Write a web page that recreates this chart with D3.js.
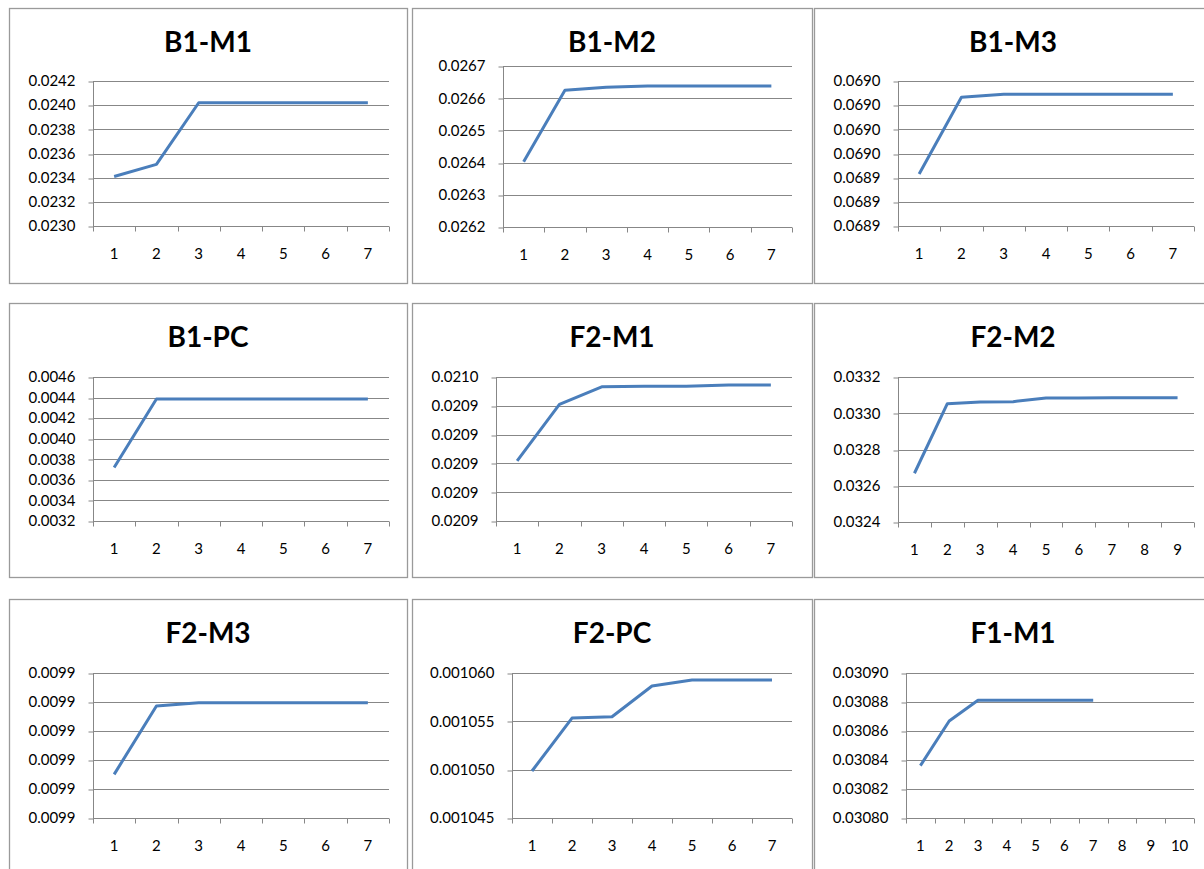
<!DOCTYPE html>
<html>
<head>
<meta charset="utf-8">
<script src="https://cdn.jsdelivr.net/npm/d3@7"></script>
<style>
  html, body { margin: 0; padding: 0; background: #fff; }
  svg { display: block; }
  text { font-family: Lato, "Open Sans", sans-serif; fill: #000; }
</style>
</head>
<body>
<div id="chart"></div>
<script>
// chart titles, in reading order
const titles = ['B1-M1', 'B1-M2', 'B1-M3', 'B1-PC', 'F2-M1', 'F2-M2', 'F2-M3', 'F2-PC', 'F1-M1'];

// series values
const b1m1 = [0.02341, 0.02351, 0.02402, 0.02402, 0.02402, 0.02402, 0.02402];
const b1m2 = [0.026403, 0.026625, 0.026634, 0.026638, 0.026638, 0.026638, 0.026638];
const b1m3 = [0.0689415, 0.0689733, 0.0689745, 0.0689745, 0.0689745, 0.0689745, 0.0689745];
const b1pc = [0.00372, 0.004386, 0.004386, 0.004386, 0.004386, 0.004386, 0.004386];
const f2m1 = [0.0209209, 0.0209405, 0.0209466, 0.0209468, 0.0209468, 0.0209472, 0.0209472];
const f2m2 = [0.032669, 0.033053, 0.033062, 0.033064, 0.033084, 0.033084, 0.033085, 0.033085, 0.033085];
const f2m3 = [0.00989301, 0.00989772, 0.00989795, 0.00989795, 0.00989795, 0.00989795, 0.00989795];
const f2pc = [0.00104986, 0.00105534, 0.00105548, 0.00105866, 0.00105928, 0.00105928, 0.00105928];
const f1m1 = [0.0308361, 0.0308669, 0.0308812, 0.0308812, 0.0308812, 0.0308812, 0.0308812];
const series = [b1m1, b1m2, b1m3, b1pc, f2m1, f2m2, f2m3, f2pc, f1m1];

// number of categories on each x axis
const categoryCounts = [7, 7, 7, 7, 7, 9, 7, 7, 10];

// value axis ranges
const yDomains = [
  [0.0230, 0.0242], [0.0262, 0.0267], [0.06892, 0.06898],
  [0.0032, 0.0046], [0.02090, 0.02095], [0.0324, 0.0332],
  [0.009890, 0.009900], [0.001045, 0.001060], [0.03080, 0.03090]
];

// tick labels, bottom to top (as Excel shows them, rounded)
const yTickLabels = [
  ['0.0230', '0.0232', '0.0234', '0.0236', '0.0238', '0.0240', '0.0242'],
  ['0.0262', '0.0263', '0.0264', '0.0265', '0.0266', '0.0267'],
  ['0.0689', '0.0689', '0.0689', '0.0690', '0.0690', '0.0690', '0.0690'],
  ['0.0032', '0.0034', '0.0036', '0.0038', '0.0040', '0.0042', '0.0044', '0.0046'],
  ['0.0209', '0.0209', '0.0209', '0.0209', '0.0209', '0.0210'],
  ['0.0324', '0.0326', '0.0328', '0.0330', '0.0332'],
  ['0.0099', '0.0099', '0.0099', '0.0099', '0.0099', '0.0099'],
  ['0.001045', '0.001050', '0.001055', '0.001060'],
  ['0.03080', '0.03082', '0.03084', '0.03086', '0.03088', '0.03090']
];

// layout: chart frames and plot areas (page pixels)
const WIDTH = 1204;
const HEIGHT = 869;
const frames = [
  [9, 8, 398, 275], [412, 8, 400, 275], [814, 8, 398, 275],
  [9, 303, 398, 274], [412, 303, 400, 274], [814, 303, 398, 274],
  [9, 599, 398, 275], [412, 599, 400, 275], [814, 599, 398, 275]
];
// left, top, right, bottom of each plot area
const plots = [
  [93, 81, 389, 226], [503, 66, 792, 227], [898, 81, 1194, 226],
  [93, 377, 389, 521], [496, 377, 792, 521], [898, 377, 1194, 522],
  [93, 673, 389, 818], [512, 673, 792, 818], [906, 673, 1194, 818]
];

const LINE_COLOR = '#4a7ebb';
const GRID_COLOR = '#878787';
const FRAME_COLOR = '#9a9a9a';
const TICK_FONT = 15;

const svg = d3.select('#chart')
  .append('svg')
  .attr('width', WIDTH)
  .attr('height', HEIGHT);

function drawPanel(i) {
  const [fx, fy, fw, fh] = frames[i];
  const [left, top, right, bottom] = plots[i];
  const values = series[i];
  const labels = yTickLabels[i];
  const [lo, hi] = yDomains[i];

  const g = svg.append('g').attr('class', `panel panel-${titles[i].toLowerCase()}`);

  // chart frame
  g.append('rect')
    .attr('x', fx + 0.5)
    .attr('y', fy + 0.5)
    .attr('width', fw)
    .attr('height', fh)
    .attr('fill', '#fff')
    .attr('stroke', FRAME_COLOR)
    .attr('stroke-width', 1.3);

  // title
  g.append('text')
    .attr('x', fx + fw / 2)
    .attr('y', fy + 44)
    .attr('text-anchor', 'middle')
    .attr('font-size', 28)
    .attr('font-weight', 'bold')
    .text(titles[i]);

  const cats = d3.range(1, categoryCounts[i] + 1);
  const x = d3.scaleBand().domain(cats).range([left, right]);
  const y = d3.scaleLinear().domain([lo, hi]).range([bottom, top]);
  const tickVals = labels.map((_, k) => lo + ((hi - lo) * k) / (labels.length - 1));

  // horizontal gridlines
  g.append('g')
    .attr('class', 'grid')
    .selectAll('line')
    .data(tickVals)
    .enter()
    .append('line')
    .attr('x1', left)
    .attr('x2', right)
    .attr('y1', (d) => Math.round(y(d)) + 0.5)
    .attr('y2', (d) => Math.round(y(d)) + 0.5)
    .attr('stroke', GRID_COLOR)
    .attr('stroke-width', 1);

  // value axis
  const yAxis = g.append('g')
    .attr('class', 'y-axis')
    .attr('transform', `translate(${left + 0.5},0)`)
    .call(d3.axisLeft(y).tickValues(tickVals).tickSize(5).tickPadding(13)
      .tickFormat((d, k) => labels[k]));
  yAxis.select('.domain').attr('stroke', GRID_COLOR).attr('d', `M0,${top}V${bottom}`);
  yAxis.selectAll('.tick line').attr('stroke', GRID_COLOR)
    .attr('transform', (d) => `translate(0,${Math.round(y(d)) + 0.5 - y(d)})`);
  yAxis.selectAll('.tick text')
    .attr('font-size', TICK_FONT)
    .attr('font-family', 'Lato, "Open Sans", sans-serif')
    .attr('fill', '#000');

  // category axis: tick marks on the band edges, labels in the middle
  const edges = d3.range(0, cats.length + 1).map((k) => left + k * x.bandwidth());
  const xAxis = g.append('g')
    .attr('class', 'x-axis')
    .attr('transform', `translate(0,${Math.round(bottom) + 0.5})`);
  xAxis.append('line')
    .attr('x1', left)
    .attr('x2', right)
    .attr('stroke', GRID_COLOR);
  xAxis.selectAll('line.tick')
    .data(edges)
    .enter()
    .append('line')
    .attr('class', 'tick')
    .attr('x1', (d) => Math.round(d) + 0.5)
    .attr('x2', (d) => Math.round(d) + 0.5)
    .attr('y1', 0)
    .attr('y2', 5)
    .attr('stroke', GRID_COLOR);
  xAxis.selectAll('text')
    .data(cats)
    .enter()
    .append('text')
    .attr('x', (d) => x(d) + x.bandwidth() / 2)
    .attr('y', 32)
    .attr('text-anchor', 'middle')
    .attr('font-size', TICK_FONT)
    .text((d) => d);

  // the series line
  const line = d3.line()
    .x((d, k) => x(cats[k]) + x.bandwidth() / 2)
    .y((d) => y(d));

  g.append('path')
    .datum(values)
    .attr('d', line)
    .attr('fill', 'none')
    .attr('stroke', LINE_COLOR)
    .attr('stroke-width', 3)
    .attr('stroke-linejoin', 'round');
}

titles.forEach((t, i) => drawPanel(i));
</script>
</body>
</html>
